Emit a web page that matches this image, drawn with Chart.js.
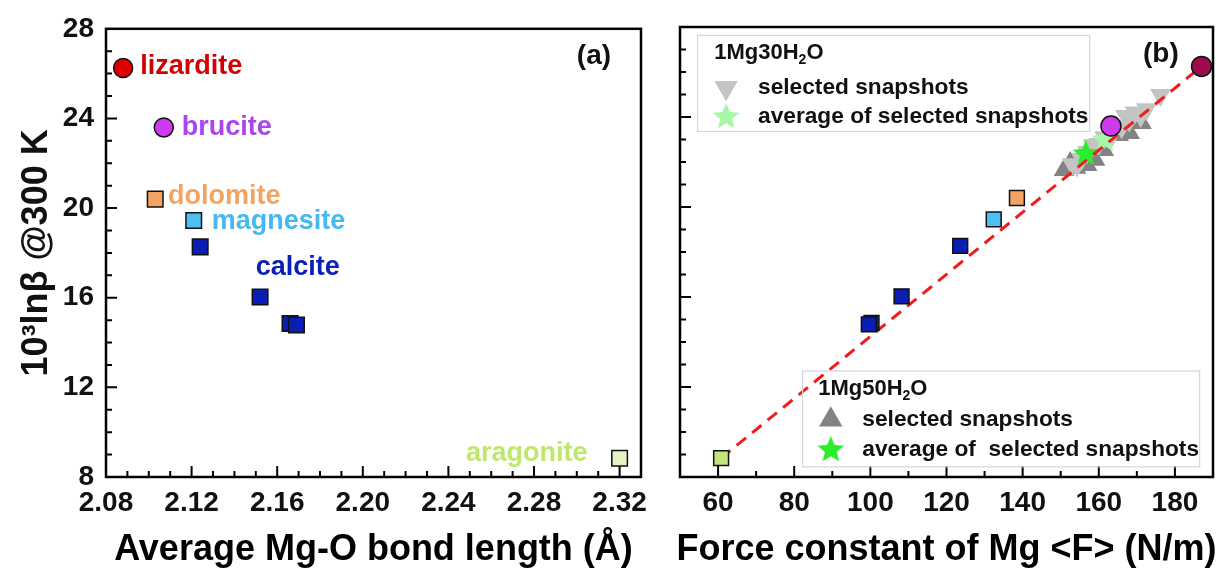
<!DOCTYPE html>
<html>
<head>
<meta charset="utf-8">
<script src="https://cdn.jsdelivr.net/npm/chart.js@4.4.0/dist/chart.umd.min.js"></script>
<style>
  html, body { margin: 0; padding: 0; background: #fff; overflow: hidden; }
  #wrap { position: relative; width: 1225px; height: 573px; }
  canvas { position: absolute; top: 0; }
  #left { left: 0; }
  #right { left: 660px; }
</style>
</head>
<body>
<div id="wrap">
  <canvas id="left" width="660" height="573"></canvas>
  <canvas id="right" width="565" height="573"></canvas>
</div>
<script>
// minerals (same order in every array)
const minerals   = ['lizardite', 'brucite', 'dolomite', 'magnesite', 'calcite', 'calcite', 'calcite', 'calcite', 'aragonite'];
const bondLength = [2.088, 2.107, 2.103, 2.121, 2.124, 2.152, 2.166, 2.169, 2.320];
const forceConst = [187.0, 163.2, 138.5, 132.4, 123.6, 108.2, 100.3, 99.6, 60.8];
const lnBeta     = [26.25, 23.60, 20.40, 19.45, 18.27, 16.03, 14.85, 14.78, 8.84];

// 1Mg30H2O snapshots (down triangles) and 1Mg50H2O snapshots (up triangles)
const snap30Force = [176.2, 172.5, 171.0, 169.5, 168.0, 167.0, 166.0, 164.5, 163.5, 161.5, 160.0, 158.5, 157.0, 155.5, 154.3, 153.0];
const snap30Beta  = [24.98, 24.35, 24.05, 24.20, 23.85, 24.05, 23.55, 23.60, 23.20, 23.10, 22.80, 22.75, 22.45, 22.15, 21.85, 21.90];
const snap50Force = [150.9, 152.5, 154.0, 156.9, 159.0, 161.3, 165.2, 168.1, 171.2];
const snap50Beta  = [21.64, 21.96, 21.75, 21.87, 22.10, 22.53, 23.20, 23.29, 23.73];
const avg30Force = [161.6], avg30Beta = [22.98];
const avg50Force = [156.6], avg50Beta = [22.36];

// fitted dashed line
const fitForce = [60.8, 187.0];
const fitBeta  = [8.84, 26.25];

// tick labels
const betaTicks  = [8, 12, 16, 20, 24, 28];
const bondTicks  = [2.08, 2.12, 2.16, 2.20, 2.24, 2.28, 2.32];
const forceTicks = [60, 80, 100, 120, 140, 160, 180];

const FONT = "'Liberation Sans', Arial, sans-serif";
Chart.defaults.font.family = FONT;

const fillA = { lizardite: '#dc0000', brucite: '#cc3cee', dolomite: '#f4a462', magnesite: '#4cc0f5', calcite: '#0a1eb4', aragonite: '#e4f2c6' };
const fillB = Object.assign({}, fillA, { lizardite: '#9c0c4c', aragonite: '#c6e47c' });
const round = m => m === 'lizardite' || m === 'brucite';

function makeStar(color, r) {
  const c = document.createElement('canvas');
  c.width = c.height = Math.ceil(r * 2 + 2);
  const g = c.getContext('2d');
  const cx = c.width / 2, cy = c.height / 2;
  g.beginPath();
  for (let i = 0; i < 10; i++) {
    const rr = i % 2 ? r * 0.45 : r;
    const a = -Math.PI / 2 + i * Math.PI / 5;
    g.lineTo(cx + rr * Math.cos(a), cy + rr * Math.sin(a));
  }
  g.closePath();
  g.fillStyle = color;
  g.fill();
  return c;
}
const starLight = makeStar('#a8f7a8', 14);
const starGreen = makeStar('#2aee2a', 14);

const pts = (xs, ys) => xs.map((x, i) => ({ x: x, y: ys[i] }));

// frame + inward ticks
function framePlugin(xMinorStep, xMin, xMax) {
  return {
    id: 'frame',
    beforeDatasetsDraw(chart) {
      const { ctx, chartArea: a, scales: { x, y } } = chart;
      ctx.save();
      ctx.strokeStyle = '#000';
      ctx.lineWidth = 2;
      ctx.beginPath();
      for (let v = xMin; v <= xMax + 1e-9; v += xMinorStep) {
        const px = x.getPixelForValue(v);
        if (px <= a.left + 1 || px >= a.right - 1) continue;
        const major = x.ticks.some(t => Math.abs(t.value - v) < xMinorStep / 10);
        ctx.moveTo(px, a.bottom);
        ctx.lineTo(px, a.bottom - (major ? 11 : 6));
      }
      for (let v = 8; v <= 28; v += 1) {
        const py = y.getPixelForValue(v);
        if (py >= a.bottom - 1 || py <= a.top + 1) continue;
        ctx.moveTo(a.left, py);
        ctx.lineTo(a.left + (v % 4 === 0 ? 11 : 6), py);
      }
      ctx.stroke();
      ctx.lineWidth = 2.5;
      ctx.strokeRect(a.left, a.top, a.width, a.height);
      ctx.restore();
    }
  };
}

function text(ctx, s, x, y, color, size, align) {
  ctx.font = 'bold ' + size + 'px ' + FONT;
  ctx.fillStyle = color;
  ctx.textAlign = align || 'left';
  ctx.textBaseline = 'middle';
  ctx.fillText(s, x, y);
}

function xTitle(chart, s) {
  const { ctx, chartArea: a } = chart;
  ctx.save();
  text(ctx, s, (a.left + a.right) / 2, 550, '#000', 36, 'center');
  ctx.restore();
}

// ---------- panel (a) ----------
const leftLabels = [
  ['lizardite', 2.096, 26.30, '#d20000', 'left'],
  ['brucite', 2.1154, 23.60, '#a845f0', 'left'],
  ['dolomite', 2.109, 20.50, '#f4a462', 'left'],
  ['magnesite', 2.1294, 19.40, '#45b8f0', 'left'],
  ['calcite', 2.150, 17.35, '#0a20b8', 'left'],
  ['aragonite', 2.305, 9.06, '#bde86d', 'right']
];

new Chart(document.getElementById('left'), {
  type: 'scatter',
  data: {
    datasets: [{
      data: pts(bondLength, lnBeta),
      backgroundColor: minerals.map(m => fillA[m]),
      pointStyle: minerals.map(m => round(m) ? 'circle' : 'rect'),
      pointRadius: minerals.map(m => round(m) ? 9.5 : 11),
      borderColor: '#111',
      borderWidth: 1.5,
      clip: false
    }]
  },
  options: {
    responsive: false,
    animation: false,
    events: [],
    layout: { padding: { top: 27, right: 19, left: 0, bottom: 0 } },
    plugins: { legend: { display: false }, tooltip: { enabled: false } },
    scales: {
      x: {
        min: 2.08, max: 2.33,
        grid: { display: false, drawTicks: false },
        border: { display: false },
        afterBuildTicks: s => { s.ticks = bondTicks.map(v => ({ value: v })); },
        afterFit: s => { s.height = 96; },
        ticks: { padding: 9, maxRotation: 0, autoSkip: false, color: '#111', font: { size: 28, weight: 'bold' }, callback: v => v.toFixed(2) }
      },
      y: {
        min: 8, max: 28,
        grid: { display: false, drawTicks: false },
        border: { display: false },
        afterBuildTicks: s => { s.ticks = betaTicks.map(v => ({ value: v })); },
        afterFit: s => { s.width = 106; },
        ticks: { padding: 12, color: '#111', font: { size: 28, weight: 'bold' } }
      }
    }
  },
  plugins: [framePlugin(0.01, 2.08, 2.33), {
    id: 'labelsA',
    afterDraw(chart) {
      const { ctx, scales: { x, y } } = chart;
      ctx.save();
      leftLabels.forEach(l => text(ctx, l[0], x.getPixelForValue(l[1]), y.getPixelForValue(l[2]), l[3], 27, l[4]));
      text(ctx, '(a)', x.getPixelForValue(2.316), y.getPixelForValue(26.77), '#111', 28, 'right');
      xTitle(chart, 'Average Mg-O bond length (Å)');
      ctx.translate(37, (chart.chartArea.top + chart.chartArea.bottom) / 2);
      ctx.rotate(-Math.PI / 2);
      text(ctx, '10³lnβ @300 K', 0, 0, '#111', 36, 'center');
      ctx.restore();
    }
  }]
});

// ---------- panel (b) ----------
function subTitle(ctx, pre, post, x, y) {
  ctx.font = 'bold 22px ' + FONT;
  ctx.fillStyle = '#111';
  ctx.textAlign = 'left';
  ctx.textBaseline = 'middle';
  ctx.fillText(pre, x, y);
  let w = ctx.measureText(pre).width;
  ctx.font = 'bold 14px ' + FONT;
  ctx.fillText('2', x + w, y + 7);
  w += ctx.measureText('2').width;
  ctx.font = 'bold 22px ' + FONT;
  ctx.fillText(post, x + w, y);
}

function tri(ctx, x, y, r, down, color) {
  const s = down ? -1 : 1;
  ctx.beginPath();
  ctx.moveTo(x, y - s * r);
  ctx.lineTo(x + r * 0.866, y + s * r * 0.5);
  ctx.lineTo(x - r * 0.866, y + s * r * 0.5);
  ctx.closePath();
  ctx.fillStyle = color;
  ctx.fill();
}

function legendBox(chart, box, title, triDown, triColor, star, avgText) {
  const { ctx, scales: { x, y } } = chart;
  const l = x.getPixelForValue(box.x0), r = x.getPixelForValue(box.x1);
  const t = y.getPixelForValue(box.y0), b = y.getPixelForValue(box.y1);
  ctx.strokeStyle = '#d6d6d6';
  ctx.lineWidth = 1.2;
  ctx.strokeRect(l, t, r - l, b - t);
  subTitle(ctx, title, 'O', x.getPixelForValue(box.tx), y.getPixelForValue(box.ty));
  const sx = x.getPixelForValue(box.sx);
  tri(ctx, sx, y.getPixelForValue(box.r1), 13.5, triDown, triColor);
  ctx.drawImage(star, sx - star.width / 2, y.getPixelForValue(box.r2) - star.height / 2);
  const lx = x.getPixelForValue(box.lx);
  text(ctx, 'selected snapshots', lx, y.getPixelForValue(box.r1), '#111', 22.7, 'left');
  text(ctx, avgText, lx, y.getPixelForValue(box.r2), '#111', 22.7, 'left');
}

new Chart(document.getElementById('right'), {
  type: 'scatter',
  data: {
    datasets: [{
      data: pts(forceConst, lnBeta),
      backgroundColor: minerals.map(m => fillB[m]),
      pointStyle: minerals.map(m => round(m) ? 'circle' : 'rect'),
      pointRadius: minerals.map(m => round(m) ? 10 : 10.5),
      borderColor: '#111',
      borderWidth: 1.5,
      clip: false,
      order: 0
    }, {
      data: pts(fitForce, fitBeta),
      showLine: true,
      pointRadius: 0,
      borderColor: '#ee1c1c',
      borderWidth: 3,
      borderDash: [12, 8],
      order: 1
    }, {
      data: pts(avg30Force, avg30Beta),
      pointStyle: starLight,
      order: 2
    }, {
      data: pts(avg50Force, avg50Beta),
      pointStyle: starGreen,
      order: 2
    }, {
      data: pts(snap30Force, snap30Beta),
      pointStyle: 'triangle',
      rotation: 180,
      pointRadius: 12,
      borderWidth: 0,
      backgroundColor: '#c4c4c4',
      order: 3
    }, {
      data: pts(snap50Force, snap50Beta),
      pointStyle: 'triangle',
      pointRadius: 12,
      borderWidth: 0,
      backgroundColor: '#838383',
      order: 4
    }]
  },
  options: {
    responsive: false,
    animation: false,
    events: [],
    layout: { padding: { top: 27, right: 8, left: 0, bottom: 0 } },
    plugins: { legend: { display: false }, tooltip: { enabled: false } },
    scales: {
      x: {
        min: 50, max: 190,
        grid: { display: false, drawTicks: false },
        border: { display: false },
        afterBuildTicks: s => { s.ticks = forceTicks.map(v => ({ value: v })); },
        afterFit: s => { s.height = 96; },
        ticks: { padding: 9, maxRotation: 0, autoSkip: false, color: '#111', font: { size: 28, weight: 'bold' } }
      },
      y: {
        min: 8, max: 28,
        grid: { display: false, drawTicks: false },
        border: { display: false },
        afterBuildTicks: s => { s.ticks = betaTicks.map(v => ({ value: v })); },
        afterFit: s => { s.width = 20; },
        ticks: { display: false }
      }
    }
  },
  plugins: [framePlugin(10, 50, 190), {
    id: 'labelsB',
    afterDraw(chart) {
      const { ctx, scales: { x, y } } = chart;
      ctx.save();
      text(ctx, '(b)', x.getPixelForValue(181), y.getPixelForValue(26.77), '#111', 28, 'right');
      legendBox(chart, { x0: 54.6, x1: 157.6, y0: 27.63, y1: 23.36, tx: 59.0, ty: 26.85, sx: 62.1, lx: 70.5, r1: 25.3, r2: 24.0 },
        '1Mg30H', true, '#c4c4c4', starLight, 'average of selected snapshots');
      legendBox(chart, { x0: 82.2, x1: 186.5, y0: 12.71, y1: 8.45, tx: 86.3, ty: 11.92, sx: 89.6, lx: 97.9, r1: 10.55, r2: 9.2 },
        '1Mg50H', false, '#838383', starGreen, 'average of  selected snapshots');
      xTitle(chart, 'Force constant of Mg <F> (N/m)');
      ctx.restore();
    }
  }]
});
</script>
</body>
</html>
